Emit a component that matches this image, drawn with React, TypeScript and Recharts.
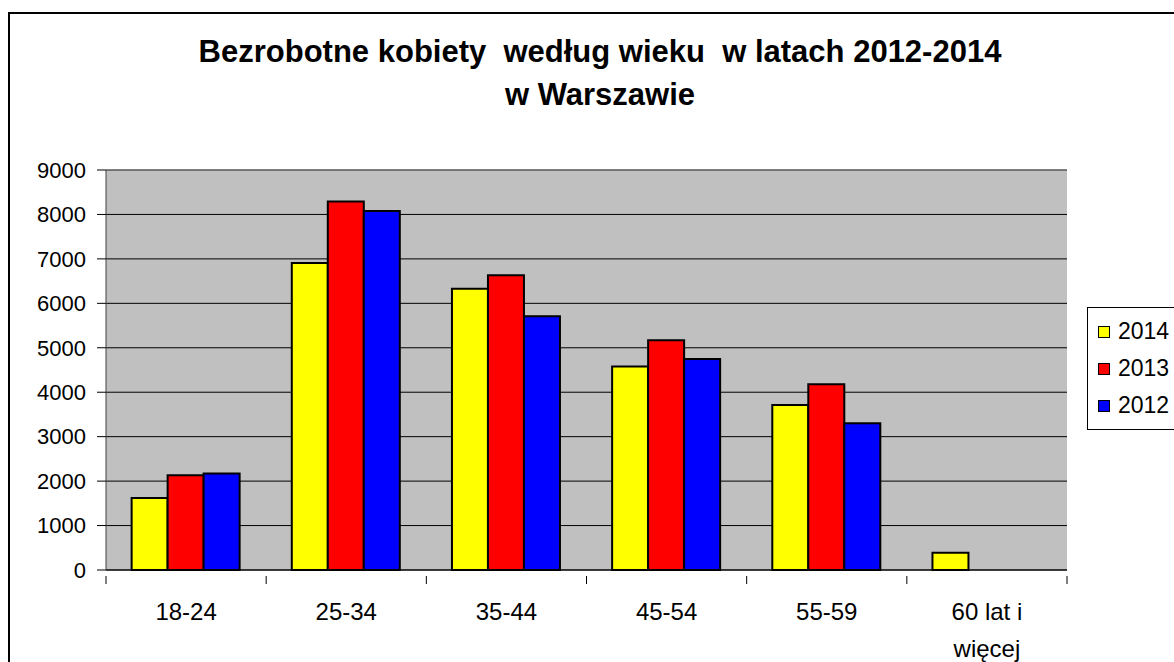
import { BarChart, Bar, XAxis, YAxis, CartesianGrid, Legend, ReferenceLine } from 'recharts';

// Age groups and yearly counts of unemployed women
const categories = ['18-24', '25-34', '35-44', '45-54', '55-59', '60 lat i więcej'];
const values2014 = [1620, 6910, 6330, 4580, 3710, 390];
const values2013 = [2130, 8290, 6630, 5170, 4180, null];
const values2012 = [2170, 8080, 5710, 4750, 3300, null];
const yTicks = [0, 1000, 2000, 3000, 4000, 5000, 6000, 7000, 8000, 9000];

const FONT = '"Liberation Sans", Arial, sans-serif';

const data = categories.map((name, i) => ({
  name,
  y2014: values2014[i],
  y2013: values2013[i],
  y2012: values2012[i],
}));

// split long labels into short lines like Excel does
function wrap(label: string, max = 8): string[] {
  const words = label.split(' ');
  const lines: string[] = [];
  let cur = '';
  words.forEach((w) => {
    const next = cur ? cur + ' ' + w : w;
    if (next.length > max && cur) {
      lines.push(cur);
      cur = w;
    } else {
      cur = next;
    }
  });
  if (cur) lines.push(cur);
  return lines;
}

function CategoryTick(props: any) {
  const { x, y, payload, index, width } = props;
  const band = width / categories.length;
  const lines = wrap(payload.value);
  const left = x - band / 2;
  return (
    <g>
      <line x1={left} y1={y} x2={left} y2={y + 8} stroke="#000" />
      {index === categories.length - 1 && (
        <line x1={left + band} y1={y} x2={left + band} y2={y + 8} stroke="#000" />
      )}
      {lines.map((l, i) => (
        <text key={i} x={x} y={y + 44 + i * 37} textAnchor="middle" fontSize={24} fill="#000" fontFamily={FONT}>
          {l}
        </text>
      ))}
    </g>
  );
}

function LegendBox(props: any) {
  // newest year on top, as in the original
  const items = [...(props.payload || [])].sort((a: any, b: any) => Number(b.value) - Number(a.value));
  return (
    <div style={{ border: '1px solid #000', background: '#fff', padding: '5px 0 5px 10px', fontFamily: FONT }}>
      {items.map((p: any) => (
        <div key={p.value} style={{ height: 37, display: 'flex', alignItems: 'center' }}>
          <span style={{ width: 10, height: 10, background: p.color, border: '1px solid #000', marginRight: 8 }} />
          <span style={{ fontSize: 23, color: '#000' }}>{p.value}</span>
        </div>
      ))}
    </div>
  );
}

export default function App() {
  return (
    <div style={{ position: 'fixed', left: 0, top: 0, width: 1174, height: 662, overflow: 'hidden', background: '#fff' }}>
      <div style={{ position: 'absolute', left: 8, top: 12, width: 1300, height: 800, border: '2px solid #000' }} />
      <div
        style={{
          position: 'absolute', left: 0, top: 30, width: 1200, textAlign: 'center',
          fontFamily: FONT, fontWeight: 'bold', fontSize: 31, lineHeight: '43px', whiteSpace: 'pre', color: '#000',
        }}
      >
        {'Bezrobotne kobiety  według wieku  w latach 2012-2014\nw Warszawie'}
      </div>
      <BarChart
        width={1174}
        height={662}
        data={data}
        margin={{ top: 170, right: 107, bottom: 0, left: 0 }}
        barCategoryGap="16%"
        barGap={0}
        style={{ position: 'absolute', left: 0, top: 0 }}
      >
        <CartesianGrid vertical={false} stroke="#000" fill="#C0C0C0" fillOpacity={1} />
        <ReferenceLine y={9000} stroke="#808080" />
        <XAxis
          dataKey="name"
          height={92}
          axisLine={{ stroke: '#000' }}
          tickLine={false}
          tickMargin={0}
          tick={<CategoryTick />}
          interval={0}
        />
        <YAxis
          width={106}
          domain={[0, 9000]}
          ticks={yTicks}
          interval={0}
          axisLine={{ stroke: '#404040' }}
          tickLine={{ stroke: '#000' }}
          tickSize={9}
          tickMargin={11}
          tick={{ fill: '#000', fontSize: 22, fontFamily: FONT }}
        />
        <YAxis
          yAxisId="frame"
          orientation="right"
          width={0}
          tick={false}
          tickLine={false}
          axisLine={{ stroke: '#808080', strokeWidth: 2 }}
        />
        <Legend
          layout="vertical"
          align="center"
          verticalAlign="middle"
          content={<LegendBox />}
          wrapperStyle={{ left: 1087, top: 307, width: 120, height: 'auto' }}
        />
        <Bar dataKey="y2014" name="2014" fill="#FFFF00" stroke="#000" strokeWidth={2} isAnimationActive={false} />
        <Bar dataKey="y2013" name="2013" fill="#FF0000" stroke="#000" strokeWidth={2} isAnimationActive={false} />
        <Bar dataKey="y2012" name="2012" fill="#0000FF" stroke="#000" strokeWidth={2} isAnimationActive={false} />
      </BarChart>
    </div>
  );
}
